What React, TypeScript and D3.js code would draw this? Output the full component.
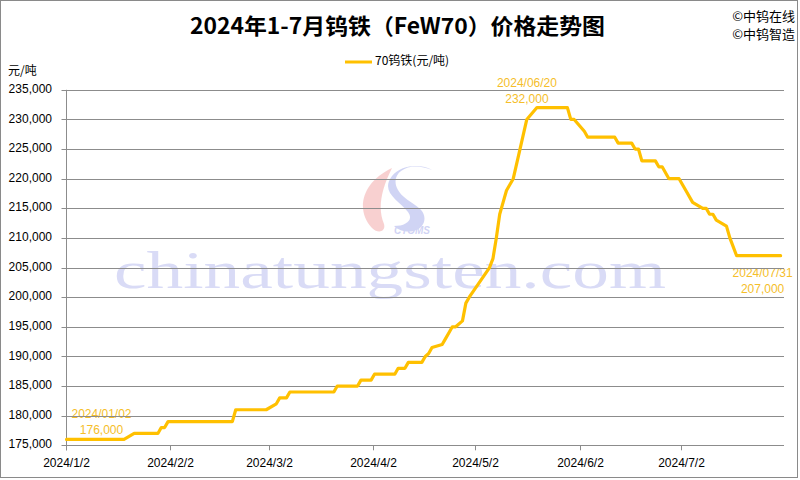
import React from 'react';
import * as d3 from 'd3';

// ---------- data ----------
const dates = [
  '2024-01-02', '2024-01-19', '2024-01-22', '2024-01-29', '2024-01-30', '2024-01-31', '2024-02-01',
  '2024-02-20', '2024-02-21', '2024-03-01', '2024-03-04', '2024-03-05', '2024-03-07', '2024-03-08',
  '2024-03-21', '2024-03-22', '2024-03-28', '2024-03-29', '2024-04-01', '2024-04-02', '2024-04-08',
  '2024-04-09', '2024-04-11', '2024-04-12', '2024-04-16', '2024-04-17', '2024-04-18', '2024-04-19',
  '2024-04-22', '2024-04-23', '2024-04-24', '2024-04-25', '2024-04-26', '2024-04-28', '2024-04-29',
  '2024-04-30', '2024-05-06', '2024-05-07', '2024-05-08', '2024-05-09', '2024-05-10', '2024-05-11',
  '2024-05-13', '2024-05-15', '2024-05-17', '2024-05-20', '2024-05-29', '2024-05-30', '2024-05-31',
  '2024-06-03', '2024-06-04', '2024-06-12', '2024-06-13', '2024-06-17', '2024-06-18', '2024-06-19',
  '2024-06-20', '2024-06-24', '2024-06-25', '2024-06-26', '2024-06-28', '2024-07-01', '2024-07-03',
  '2024-07-05', '2024-07-08', '2024-07-09', '2024-07-10', '2024-07-11', '2024-07-12', '2024-07-15',
  '2024-07-16', '2024-07-18', '2024-07-31',
];
const prices = [
  176000, 176000, 177000, 177000, 178000, 178000, 179000,
  179000, 181000, 181000, 182000, 183000, 183000, 184000,
  184000, 185000, 185000, 186000, 186000, 187000, 187000,
  188000, 188000, 189000, 189000, 190000, 190500, 191500,
  192000, 193000, 194000, 195000, 195000, 196000, 199000,
  200000, 205000, 206500, 210000, 214000, 216000, 218000,
  220000, 225000, 230000, 232000, 232000, 230000, 230000,
  228000, 227000, 227000, 226000, 226000, 225000, 225000,
  223000, 223000, 222000, 222000, 220000, 220000, 218000,
  216000, 215000, 215000, 214000, 214000, 213000, 212000,
  210000, 207000, 207000,
];
const yTickValues = [175000, 180000, 185000, 190000, 195000, 200000, 205000, 210000, 215000, 220000, 225000, 230000, 235000];
const xTickDates = ['2024-01-02', '2024-02-02', '2024-03-02', '2024-04-02', '2024-05-02', '2024-06-02', '2024-07-02'];
const xTickLabels = ['2024/1/2', '2024/2/2', '2024/3/2', '2024/4/2', '2024/5/2', '2024/6/2', '2024/7/2'];
const labelDates = ['2024/01/02', '2024/06/20', '2024/07/31'];
const labelValues = ['176,000', '232,000', '207,000'];

const title = '2024年1-7月钨铁（FeW70）价格走势图';
const seriesName = '70钨铁(元/吨)';
const unit = '元/吨';
const credits = ['©中钨在线', '©中钨智造'];

const parse = d3.timeParse('%Y-%m-%d');

export default function App() {
  const W = 800, H = 480;
  const left = 66.5, right = 784, top = 89.8, bottom = 445.3;
  const gold = '#FFC000';
  const labelGold = '#F5BE2A';
  const grid = '#8C8C8C';
  const font = '"Liberation Sans", Arial, sans-serif';
  const cjk = '"Noto Sans CJK SC", "Noto Sans", sans-serif';

  const data = dates.map((d, i) => ({ date: parse(d) as Date, value: prices[i] }));
  const x = d3.scaleTime()
    .domain([parse('2024-01-02') as Date, parse('2024-08-01') as Date])
    .range([left, right]);
  const y = d3.scaleLinear().domain([175000, 235000]).range([bottom, top]);

  const line = d3.line<{ date: Date; value: number }>()
    .x(d => x(d.date))
    .y(d => y(d.value));

  const first = data[0];
  const last = data[data.length - 1];
  const maxVal = d3.max(data, d => d.value) as number;
  const peak = data.find(d => d.value === maxVal)!;

  const snap = (v: number) => Math.round(v) + 0.5;

  const anns = [
    { cx: x(first.date) + 35, dy1: y(first.value) - 25, dy2: y(first.value) - 9 },
    { cx: x(peak.date) - 10, dy1: y(peak.value) - 24, dy2: y(peak.value) - 8 },
    { cx: x(last.date) - 18, dy1: y(last.value) + 18, dy2: y(last.value) + 34 },
  ];

  return (
    <svg width={W} height={H} style={{ position: 'absolute', left: 0, top: 0, background: '#fff' }}
      xmlns="http://www.w3.org/2000/svg">
      <rect x={0} y={0} width={W} height={H} fill="#fff" />
      <rect x={0.5} y={0.5} width={797} height={477} fill="none" stroke="#8a8a8a" strokeWidth={1} />

      {/* watermark */}
      <g opacity={0.22}>
        <path d="M 392 168 C 362 182, 355 210, 372 228 C 378 234, 386 232, 384 224 C 378 210, 380 192, 392 168 Z" fill="#E03030" />
        <path d="M 432 170 C 410 160, 388 172, 398 190 C 406 204, 428 206, 424 222 C 420 234, 402 234, 394 226 C 406 226, 414 220, 408 212 C 398 200, 380 192, 392 176 C 402 164, 422 164, 432 170 Z" fill="#3040D0" />
        <text x={412} y={234} fontSize={10} fontWeight="bold" fontStyle="italic" fill="#3040D0"
          textAnchor="middle" fontFamily={font}>CTOMS</text>
      </g>
      <text x={114} y={288} fontSize={52} fill="#CDD0F3" opacity={0.75} fontFamily='"Liberation Serif", "DejaVu Serif", serif'
        textLength={552} lengthAdjust="spacingAndGlyphs">chinatungsten.com</text>

      {/* annotations (under gridlines like reference) */}
      {anns.map((a, i) => (
        <g key={i} fontFamily={font} fontSize={12} fill={labelGold} textAnchor="middle">
          <text x={a.cx} y={a.dy1} dominantBaseline="middle">{labelDates[i]}</text>
          <text x={a.cx} y={a.dy2} dominantBaseline="middle">{labelValues[i]}</text>
        </g>
      ))}

      {/* gridlines */}
      {yTickValues.map(v => (
        <g key={v}>
          {v !== 175000 && (
            <line x1={left - 5} x2={right} y1={snap(y(v))} y2={snap(y(v))} stroke={grid} strokeWidth={1} />
          )}
          <text x={52} y={y(v)} dominantBaseline="middle" textAnchor="end" fontSize={12}
            fontFamily={font} fill="#000">{d3.format(',')(v)}</text>
        </g>
      ))}
      {/* axes */}
      <line x1={left} x2={left} y1={top} y2={bottom + 5} stroke={grid} strokeWidth={1} />
      <line x1={left - 5} x2={right} y1={snap(bottom)} y2={snap(bottom)} stroke={grid} strokeWidth={1} />
      {xTickDates.map((d, i) => {
        const xx = snap(x(parse(d) as Date)) - 1;
        return (
          <g key={d}>
            <line x1={xx} x2={xx} y1={bottom} y2={bottom + 5} stroke={grid} strokeWidth={1} />
            <text x={xx} y={464} textAnchor="middle" dominantBaseline="middle" fontSize={12}
              fontFamily={font} fill="#000">{xTickLabels[i]}</text>
          </g>
        );
      })}

      {/* series */}
      <path d={line(data) || ''} fill="none" stroke={gold} strokeWidth={3.2} strokeLinejoin="round" strokeLinecap="round" />

      {/* title & texts */}
      <text x={397.5} y={28} textAnchor="middle" dominantBaseline="middle" fontSize={22} fontWeight="bold"
        fontFamily={cjk} fill="#000" textLength={415} lengthAdjust="spacingAndGlyphs">{title}</text>
      {credits.map((c, i) => (
        <text key={c} x={795} y={17 + i * 18} textAnchor="end" dominantBaseline="middle" fontSize={13}
          fontFamily={cjk} fill="#000">{c}</text>
      ))}
      <line x1={345} x2={372} y1={62} y2={62} stroke={gold} strokeWidth={3} />
      <text x={375} y={62} dominantBaseline="middle" fontSize={12} fontFamily={cjk} fill="#000">{seriesName}</text>
      <text x={8} y={72} dominantBaseline="middle" fontSize={12} fontFamily={cjk} fill="#000">{unit}</text>
    </svg>
  );
}
